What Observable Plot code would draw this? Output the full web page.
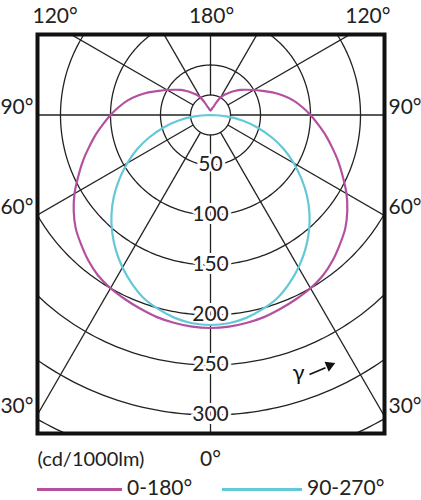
<!DOCTYPE html>
<html><head><meta charset="utf-8">
<script src="https://cdn.jsdelivr.net/npm/d3@7"></script>
<script src="https://cdn.jsdelivr.net/npm/@observablehq/plot@0.6"></script>
<style>
body{margin:0;background:#fff;font-family:Lato,"Open Sans",sans-serif;}
#wrap{position:relative;width:421px;height:500px;overflow:hidden;}
#chart svg{display:block;}
.leg{position:absolute;top:470px;left:0;width:421px;height:30px;}
.sw{position:absolute;height:3px;top:17.5px;}
.lt{position:absolute;top:2px;font-size:21px;line-height:30px;color:#222;white-space:nowrap;}
</style></head><body>
<div id="wrap"><div id="chart"></div>
<div class="leg" id="legend"></div></div>
<script>
// ---- data ----
const seriesNames = ["0-180°", "90-270°"];
const seriesColors = ["#b4509f", "#64c8d7"];
// C0-C180 plane: gamma angle (deg) and intensity (cd/1000lm)
const magentaAngles = [0,5,10,15,20,25,30,35,40,45,50,55,60,65,70,75,80,85,90,95,100,105,110,115,120,125,130,135,140,145,150,155,160,165,170,175,180];
const magentaValues = [213,212.5,211,209,206,203,200,196,190,183,176,167,157,146,136,126,117,108,100,92,84,75,66,57,50,44,39,34,29,25,20,14,9,7,5.5,5,4.5];
// C90-C270 plane
const cyanAngles = [0,5,10,15,20,25,30,35,40,45,50,55,60,65,70,75,80,85,90];
const cyanValues = [210,209,206,201,195,186,176,165,153,140,126,111,96,81,65,49,33,16,0];
// grid
const ringRadii = [20,50,100,150,200,250,300,350];
const ringLabels = [50,100,150,200,250,300];
const spokeAngles = [0,30,60,90,120,150,180];
const sideAngleLabels = [90,60,30];
const topAngleLabels = [120,180,120];
const bottomAngleLabel = 0;
const unitLabel = "(cd/1000lm)";
const gammaLabel = "γ";

// ---- geometry helpers ----
const rad = d => d * Math.PI / 180;
const X0 = -173, X1 = 174, Y0 = -318.5, Y1 = 80.5; // frame extent in cd units
const innerR = ringRadii[0];

function polarSeries(angles, values, name) {
  const pts = (side) => angles.map((a, i) => ({
    name, x: side * values[i] * Math.sin(rad(a)), y: -values[i] * Math.cos(rad(a))
  }));
  const left = pts(-1).reverse();
  const right = pts(1).slice(1);
  return left.concat(right);
}
const curves = [
  ...polarSeries(magentaAngles, magentaValues, seriesNames[0]),
  ...polarSeries(cyanAngles, cyanValues, seriesNames[1])
];

const rings = ringRadii.flatMap(r => d3.range(0, 361, 1).map(t => ({
  r, x: r * Math.sin(rad(t)), y: -r * Math.cos(rad(t))
})));

const spokes = spokeAngles.flatMap(a => ((a === 0 || a === 180) ? [1] : [-1, 1]).map(s => ({
  x1: s * innerR * Math.sin(rad(a)), y1: -innerR * Math.cos(rad(a)),
  x2: s * 700 * Math.sin(rad(a)), y2: -700 * Math.cos(rad(a))
})));

// side labels sit where each spoke meets the frame side
const sideLabels = sideAngleLabels.map(a => ({text: a + "°", y: X0 * Math.cos(rad(a)) / Math.sin(rad(a))}));

const font = "Lato, 'Open Sans', sans-serif";
const txt = {fontSize: 21, fill: "#222", lineAnchor: "middle"};

const chart = Plot.plot({
  width: 421,
  height: 470,
  marginLeft: 37, marginRight: 37, marginTop: 34, marginBottom: 37,
  x: {domain: [X0, X1], axis: null},
  y: {domain: [Y0, Y1], axis: null},
  color: {domain: seriesNames, range: seriesColors},
  style: {fontFamily: font, background: "white", color: "#222"},
  marks: [
    Plot.line(rings, {x: "x", y: "y", z: "r", stroke: "#222", strokeWidth: 1.3, clip: true}),
    Plot.link(spokes, {x1: "x1", y1: "y1", x2: "x2", y2: "y2", stroke: "#222", strokeWidth: 1.3, clip: true}),
    Plot.text(ringLabels, {x: 0, y: d => -d, text: d => String(d), ...txt,
      stroke: "white", strokeWidth: 6, dy: -1}),
    Plot.line(curves, {x: "x", y: "y", z: "name", stroke: "name", strokeWidth: 2.2, curve: "catmull-rom", clip: true}),
    Plot.frame({stroke: "#111", strokeWidth: 4}),
    Plot.text(sideLabels, {x: X0, y: "y", text: "text", textAnchor: "end", dx: -4, dy: -8, ...txt}),
    Plot.text(sideLabels, {x: X1, y: "y", text: "text", textAnchor: "start", dx: 4, dy: -8, ...txt}),
    Plot.text([topAngleLabels[0] + "°"], {x: X0, y: Y1, text: d => d, textAnchor: "start", dx: -5, dy: -18, ...txt}),
    Plot.text([topAngleLabels[1] + "°"], {x: 0, y: Y1, text: d => d, textAnchor: "middle", dx: 1, dy: -18, ...txt}),
    Plot.text([topAngleLabels[2] + "°"], {x: X1, y: Y1, text: d => d, textAnchor: "end", dx: 6, dy: -18, ...txt}),
    Plot.text([bottomAngleLabel + "°"], {x: 0, y: Y0, text: d => d, dy: 26, ...txt}),
    Plot.text([unitLabel], {x: X0, y: Y0, text: d => d, dy: 26, textAnchor: "start", fontSize: 20, fill: "#222", lineAnchor: "middle"}),
    Plot.text([gammaLabel], {x: 88, y: -258, text: d => d, fontSize: 22, fill: "#111", lineAnchor: "middle"}),
    Plot.link([{x1: 99, y1: -259.5, x2: 115, y2: -252.8}], {x1: "x1", y1: "y1", x2: "x2", y2: "y2", stroke: "#111", strokeWidth: 1.6}),
    Plot.dot([{x: 119, y: -250.5}], {x: "x", y: "y", symbol: "triangle", r: 4, fill: "#111", rotate: 67})
  ]
});
document.getElementById("chart").appendChild(chart);

// legend below the SVG
const legend = document.getElementById("legend");
const legPos = [{sw: 37, w: 85, t: 127}, {sw: 222, w: 80, t: 307}];
seriesNames.forEach((n, i) => {
  const s = document.createElement("div");
  s.className = "sw";
  s.style.left = legPos[i].sw + "px";
  s.style.width = legPos[i].w + "px";
  s.style.background = seriesColors[i];
  legend.appendChild(s);
  const t = document.createElement("div");
  t.className = "lt";
  t.style.left = legPos[i].t + "px";
  t.textContent = n;
  legend.appendChild(t);
});
</script>
</body></html>
